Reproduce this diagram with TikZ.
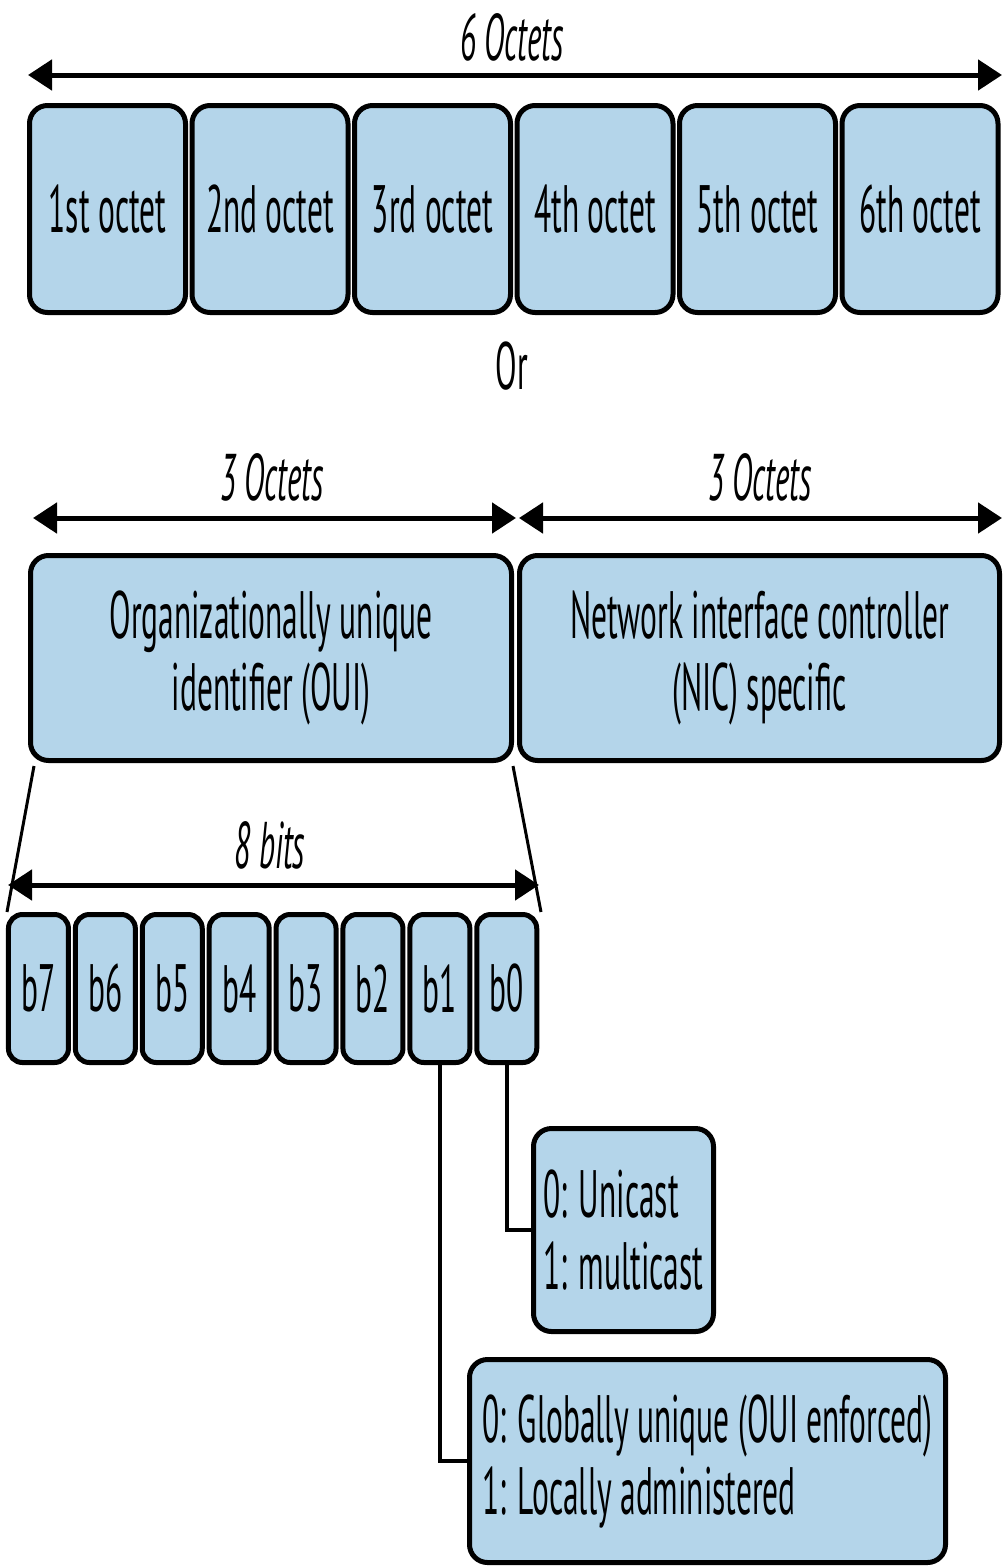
\documentclass[tikz,border=0pt]{standalone}
\usepackage{fontspec}
\setmainfont{PT Sans}[FakeStretch=0.47]
\usetikzlibrary{arrows.meta}
\definecolor{boxblue}{HTML}{B4D5EA}
\tikzset{
 box/.style={draw=black, line width=5pt, fill=boxblue, rounded corners=18pt, inner sep=0pt, font=\fontsize{67}{72}\selectfont},
 octbox/.style={box, minimum width=156pt, minimum height=207pt},
 halfbox/.style={box, minimum width=481pt, minimum height=205pt, align=center},
 bitbox/.style={box, rounded corners=14pt, minimum width=60pt, minimum height=148pt},
 notebox/.style={box, align=left, minimum height=203pt},
 dim/.style={line width=5pt, {Triangle[length=24pt,width=30pt]}-{Triangle[length=24pt,width=30pt]}},
 lbl/.style={font=\fontsize{66}{70}\selectfont\itshape, inner sep=0pt},
 conn/.style={line width=3.5pt},
 funnel/.style={line width=3pt},
}
\begin{document}
\begin{tikzpicture}[x=1pt,y=-1pt]
\useasboundingbox (0,0) rectangle (1008,1566);
% top row
\node[lbl] (l6) at (512,37) {6 Octets};
\coordinate (t1) at (28,75);
\coordinate (t2) at (1002,75);
\draw[dim] (t1) -- (t2);
\node[octbox] (o1) at (107.5,209) {1st octet};
\node[octbox] (o2) at (270,209) {2nd octet};
\node[octbox] (o3) at (432.5,209) {3rd octet};
\node[octbox] (o4) at (595,209) {4th octet};
\node[octbox] (o5) at (757.5,209) {5th octet};
\node[octbox] (o6) at (920,209) {6th octet};
\node[inner sep=0pt, font=\fontsize{67}{70}\selectfont] (or) at (512,366) {Or};
% middle row
\node[lbl] (l3a) at (272,477) {3 Octets};
\node[lbl] (l3b) at (760,477) {3 Octets};
\coordinate (m1) at (33,518);
\coordinate (m2) at (516,518);
\coordinate (m3) at (519,518);
\coordinate (m4) at (1002,518);
\draw[dim] (m1) -- (m2);
\draw[dim] (m3) -- (m4);
\node[halfbox] (oui) at (271,658) {Organizationally unique\\identifier (OUI)};
\node[halfbox, minimum width=480pt] (nic) at (759.5,658) {Network interface controller\\(NIC) specific};
% bits
\node[lbl] (l8) at (270,845) {8 bits};
\coordinate (bb1) at (8,885);
\coordinate (bb2) at (539,885);
\draw[dim] (bb1) -- (bb2);
\foreach \i/\t in {0/b7,1/b6,2/b5,3/b4,4/b3,5/b2,6/b1,7/b0}{
  \node[bitbox] (\t) at ({5+66.9*(\i+0.5)},988.5) {\t};
}
\coordinate (f1) at (34,766);
\coordinate (f2) at (7,912);
\coordinate (f3) at (513,766);
\coordinate (f4) at (541,912);
\draw[funnel] (f1) -- (f2);
\draw[funnel] (f3) -- (f4);
% notes
\node[notebox, minimum width=180pt] (uc) at (623.5,1230) {0: Unicast\\1: multicast};
\node[notebox, minimum width=476pt] (lg) at (707.5,1461) {0: Globally unique (OUI enforced)\\1: Locally administered};
\draw[conn] (b0.south) |- (uc.west);
\draw[conn] (b1.south) |- (lg.west);
\end{tikzpicture}
\end{document}
